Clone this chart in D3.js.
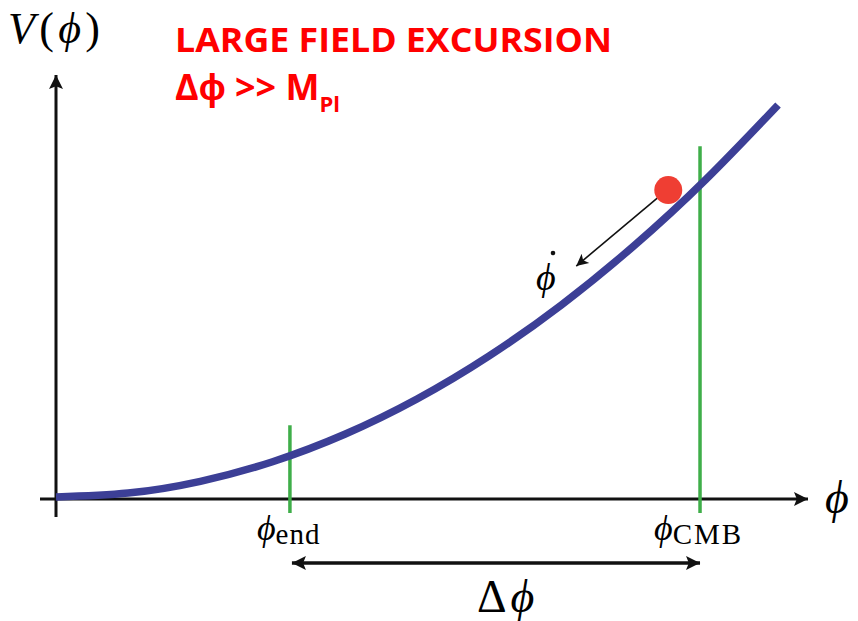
<!DOCTYPE html>
<html lang="en">
<head>
<meta charset="UTF-8">
<title>Large field excursion</title>
<style>
  body { margin: 0; background: #fff; }
  .math { font-family: "Liberation Serif", "DejaVu Serif", serif; }
</style>
</head>
<body>
<script src="https://d3js.org/d3.v7.min.js"></script>
<script>
    // potential (phi in arbitrary units, V(phi))
    var phiValues = [0, 0.1, 0.2, 0.3, 0.4, 0.5, 0.6, 0.7, 0.8, 0.9, 1.0];
    var potValues = [0, 0.01, 0.04, 0.09, 0.16, 0.25, 0.36, 0.49, 0.64, 0.81, 1.0];

    // field markers
    var markNames = ["end", "CMB"];
    var markPhi = [0.324, 0.892];
    var markTopV = [0.183, 0.895];

    // rolling ball
    var ballPhi = [0.848];
    var ballV = [0.783];

    var width = 858, height = 621;
    var x = d3.scaleLinear().domain([0, 1]).range([56, 778]);
    var y = d3.scaleLinear().domain([0, 1]).range([497, 105]);
    var axisY = 499;

    var svg = d3.select('body').append('svg')
        .attr('width', width).attr('height', height);

    var defs = svg.append('defs');
    defs.append('marker').attr('id', 'head')
        .attr('viewBox', '0 0 10 10').attr('refX', 10).attr('refY', 5)
        .attr('markerUnits', 'userSpaceOnUse')
        .attr('markerWidth', 24).attr('markerHeight', 14)
        .attr('orient', 'auto-start-reverse')
        .append('path').attr('d', 'M0,0 L10,5 L0,10 L2,5 Z').attr('fill', '#111');
    defs.append('marker').attr('id', 'small')
        .attr('viewBox', '0 0 10 10').attr('refX', 10).attr('refY', 5)
        .attr('markerUnits', 'userSpaceOnUse')
        .attr('markerWidth', 18).attr('markerHeight', 12)
        .attr('orient', 'auto')
        .append('path').attr('d', 'M0,0 L10,5 L0,10 L2.5,5 Z').attr('fill', '#111');

    // axes
    svg.append('line').attr('x1', 40).attr('y1', axisY).attr('x2', 808).attr('y2', axisY)
        .attr('stroke', '#111').attr('stroke-width', 3).attr('marker-end', 'url(#head)');
    svg.append('line').attr('x1', x(0)).attr('y1', 517).attr('x2', x(0)).attr('y2', 75)
        .attr('stroke', '#111').attr('stroke-width', 3).attr('marker-end', 'url(#head)');

    // green markers
    svg.selectAll('line.mark')
        .data(markPhi)
        .enter()
        .append('line').attr('class', 'mark')
        .attr('x1', function (d) { return x(d); })
        .attr('x2', function (d) { return x(d); })
        .attr('y1', 513)
        .attr('y2', function (d, i) { return y(markTopV[i]); })
        .attr('stroke', '#3fae49').attr('stroke-width', 3.5);

    // curve
    var line = d3.line()
        .x(function (d) { return x(d); })
        .y(function (d, i) { return y(potValues[i]); })
        .curve(d3.curveNatural);
    svg.append('path').datum(phiValues)
        .attr('d', line)
        .attr('fill', 'none')
        .attr('stroke', '#3c3f96').attr('stroke-width', 7.5);

    // ball and velocity arrow
    var bx = x(ballPhi[0]), by = y(ballV[0]);
    svg.append('line')
        .attr('x1', bx - 11).attr('y1', by + 8)
        .attr('x2', bx - 92).attr('y2', by + 76)
        .attr('stroke', '#111').attr('stroke-width', 1.6)
        .attr('marker-end', 'url(#small)');
    svg.append('circle').attr('cx', bx).attr('cy', by).attr('r', 14)
        .attr('fill', '#ef3e33');

    // phi-dot label
    svg.append('text').attr('class', 'math')
        .attr('x', 536).attr('y', 290)
        .attr('font-size', 38).attr('font-style', 'italic')
        .text('ϕ');
    svg.append('circle').attr('cx', 553).attr('cy', 253).attr('r', 2.3).attr('fill', '#111');

    // marker labels
    var lab = svg.selectAll('text.mlab')
        .data(markPhi)
        .enter()
        .append('text').attr('class', 'math mlab')
        .attr('x', function (d, i) { return x(d) - (i === 0 ? 33 : 46); })
        .attr('y', 540)
        .attr('font-size', 36);
    lab.append('tspan').attr('font-style', 'italic').text('ϕ');
    lab.append('tspan').attr('font-size', 29).attr('dy', 4)
        .attr('letter-spacing', function (d, i) { return i === 0 ? 1 : 2; })
        .text(function (d, i) { return markNames[i]; });

    // delta phi double arrow
    svg.append('line')
        .attr('x1', x(markPhi[0]) + 2).attr('y1', 563)
        .attr('x2', x(markPhi[1])).attr('y2', 563)
        .attr('stroke', '#111').attr('stroke-width', 3.5)
        .attr('marker-start', 'url(#head)').attr('marker-end', 'url(#head)');
    var dl = svg.append('text').attr('class', 'math')
        .attr('x', 477).attr('y', 612).attr('font-size', 46);
    dl.append('tspan').attr('letter-spacing', 4).text('Δ');
    dl.append('tspan').attr('font-style', 'italic').text('ϕ');

    // axis labels
    svg.append('text').attr('class', 'math')
        .attr('x', 825).attr('y', 513).attr('font-size', 46).attr('font-style', 'italic')
        .text('ϕ');
    var vl = svg.append('text').attr('class', 'math')
        .attr('x', 8).attr('y', 43).attr('font-size', 44)
        .attr('textLength', 92).attr('lengthAdjust', 'spacing');
    vl.append('tspan').attr('font-style', 'italic').text('V');
    vl.append('tspan').text('(');
    vl.append('tspan').attr('font-style', 'italic').text('ϕ');
    vl.append('tspan').text(')');

    // title
    var tfont = '"Open Sans", "Liberation Sans", sans-serif';
    svg.append('text')
        .attr('x', 175).attr('y', 52)
        .attr('font-family', tfont).attr('font-weight', 'bold')
        .attr('font-size', 34).attr('fill', '#ff0000')
        .attr('textLength', 437).attr('lengthAdjust', 'spacingAndGlyphs')
        .text('LARGE FIELD EXCURSION');
    var t2 = svg.append('text')
        .attr('x', 175).attr('y', 100)
        .attr('font-family', tfont).attr('font-weight', 'bold')
        .attr('font-size', 36).attr('fill', '#ff0000');
    t2.append('tspan').text('Δϕ >> M');
    t2.append('tspan').attr('font-size', 22).attr('dy', 12).text('Pl');
</script>
</body>
</html>
